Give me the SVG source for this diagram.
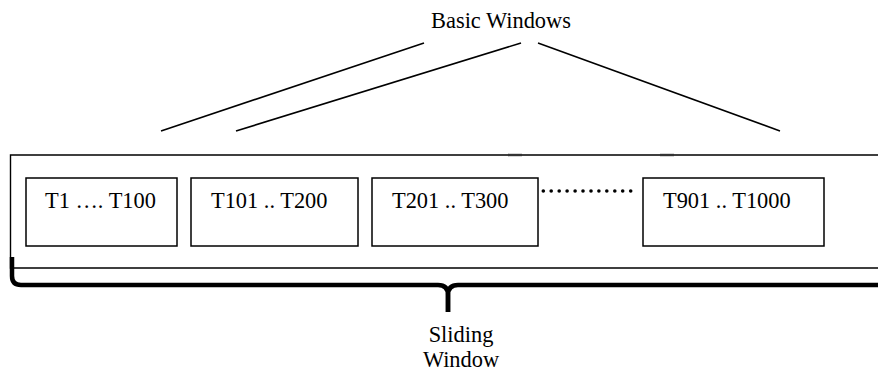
<svg xmlns="http://www.w3.org/2000/svg" width="878" height="371" viewBox="0 0 878 371">
<style>
text{font-family:"Liberation Serif","Times New Roman","DejaVu Serif",serif;font-size:22.4px;fill:#000}
.box{fill:#fff;stroke:#000;stroke-width:1.5}
.ln{stroke:#000;stroke-width:1.6;fill:none}
</style>
<rect width="878" height="371" fill="#fff"/>
<g id="sliding-frame">
<path d="M885,155 L10.5,155 L10.5,268 L885,268" fill="none" stroke="#000" stroke-width="1.4"/>
<line x1="508" y1="155" x2="522" y2="155" stroke="#333" stroke-width="2.4"/>
<line x1="660" y1="155" x2="674" y2="155" stroke="#333" stroke-width="2.4"/>
</g>
<g id="bw1"><rect class="box" x="26" y="178" width="151" height="68"/><text font-family="Liberation Serif, serif" x="45" y="208">T1 …. T100</text></g>
<g id="bw2"><rect class="box" x="191" y="178" width="167" height="68"/><text font-family="Liberation Serif, serif" x="211" y="208">T101 .. T200</text></g>
<g id="bw3"><rect class="box" x="372" y="178" width="166" height="68"/><text font-family="Liberation Serif, serif" x="392" y="208">T201 .. T300</text></g>
<g id="dots" fill="#000">
<circle cx="543.3" cy="191" r="1.8"/><circle cx="551.2" cy="191" r="1.8"/><circle cx="559.2" cy="191" r="1.8"/><circle cx="567.1" cy="191" r="1.8"/><circle cx="575.1" cy="191" r="1.8"/><circle cx="583" cy="191" r="1.8"/><circle cx="591" cy="191" r="1.8"/><circle cx="598.9" cy="191" r="1.8"/><circle cx="606.8" cy="191" r="1.8"/><circle cx="614.8" cy="191" r="1.8"/><circle cx="622.7" cy="191" r="1.8"/><circle cx="630.7" cy="191" r="1.8"/>
</g>
<g id="bw4"><rect class="box" x="643" y="178" width="181" height="68"/><text font-family="Liberation Serif, serif" x="663" y="208">T901 .. T1000</text></g>
<g id="basic-label"><text font-family="Liberation Serif, serif" x="501" y="28" text-anchor="middle">Basic Windows</text></g>
<g id="connectors">
<line class="ln" x1="161" y1="131" x2="424" y2="43"/>
<line class="ln" x1="236" y1="131" x2="521" y2="43"/>
<line class="ln" x1="538" y1="43" x2="780" y2="131"/>
</g>
<g id="brace" fill="none" stroke="#000" stroke-width="4.5">
<path d="M12,257 L12,276 Q12,285 21,285 L438,285 Q448,285 448,295 L448,312"/>
<path d="M448,312 L448,295 Q448,285 458,285 L885,285"/>
</g>
<g id="sliding-label">
<text font-family="Liberation Serif, serif" x="461" y="342" text-anchor="middle">Sliding</text>
<text font-family="Liberation Serif, serif" x="461" y="367" text-anchor="middle">Window</text>
</g>
</svg>
